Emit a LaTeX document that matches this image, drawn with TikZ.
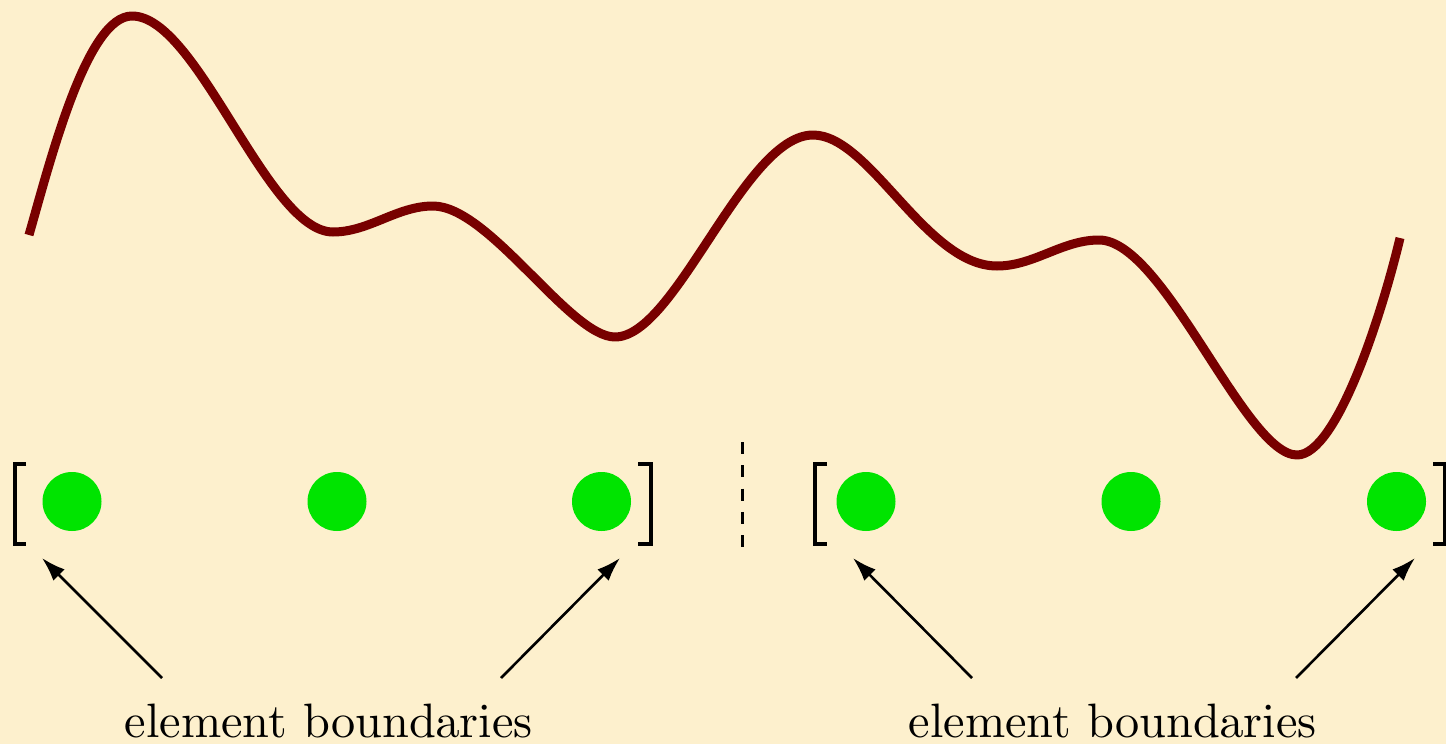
\documentclass[tikz,border=0pt]{standalone}
\usetikzlibrary{arrows.meta}
\definecolor{bgcream}{HTML}{FDF0CD}
\definecolor{curvered}{HTML}{780000}
\definecolor{dotgreen}{HTML}{00E400}
\font\lbfont=cmr10 at 48.3pt
\begin{document}
\begin{tikzpicture}[x=1pt,y=-1pt,
  dotnode/.style={circle,fill=dotgreen,draw=none,minimum size=59pt,inner sep=0pt},
  bracketline/.style={line width=4pt,line cap=butt,line join=miter},
  pointer/.style={line width=2.6pt,-{Latex[length=24pt,width=16pt]}},
  labeltext/.style={anchor=base,inner sep=0pt,font=\lbfont},
  sep/.style={line width=3pt,dash pattern=on 12pt off 11.3pt},
  wave/.style={draw=curvered,line width=9pt,line cap=butt,line join=round}]
\fill[bgcream] (0,0) rectangle (1446,744);
\useasboundingbox (0,0) rectangle (1446,744);
% curve
\draw[wave] (29,235)
  .. controls (51,158) and (87,16) .. (132,16)
  .. controls (198,16) and (267,232) .. (333,232)
  .. controls (369,232) and (397,206) .. (433,206)
  .. controls (489,206) and (570,337) .. (615,337)
  .. controls (676,337) and (744,135) .. (813,135)
  .. controls (870,135) and (926,266) .. (997,266)
  .. controls (1034,266) and (1062,240) .. (1099,240)
  .. controls (1164,240) and (1245,455) .. (1297,455)
  .. controls (1337,455) and (1382,313.6) .. (1400,238);
% dots
\node[dotnode] (d1) at (72,501.5) {};
\node[dotnode] (d2) at (337,501.5) {};
\node[dotnode] (d3) at (601.5,501.5) {};
\node[dotnode] (d4) at (866,501.5) {};
\node[dotnode] (d5) at (1131,501.5) {};
\node[dotnode] (d6) at (1396.5,501.5) {};
% brackets
\draw[bracketline] (26,463.5) -- (15,463.5) -- (15,544) -- (26,544);
\draw[bracketline] (638,463.5) -- (650.5,463.5) -- (650.5,544) -- (638,544);
\draw[bracketline] (827,463.5) -- (815,463.5) -- (815,544) -- (827,544);
\draw[bracketline] (1433,463.5) -- (1444.5,463.5) -- (1444.5,544) -- (1433,544);
% separator
\coordinate (s1) at (742.5,442);
\coordinate (s2) at (742.5,549);
\draw[sep] (s1) -- (s2);
% labels
\node[labeltext] (l1) at (329,737) {element boundaries};
\node[labeltext] (l2) at (1113,737) {element boundaries};
% arrows
\coordinate (t1) at (162,678);
\coordinate (t2) at (501,678);
\coordinate (t3) at (972,678);
\coordinate (t4) at (1296,678);
\coordinate (h1) at (42,558);
\coordinate (h2) at (620,558);
\coordinate (h3) at (853,558);
\coordinate (h4) at (1415,558);
\draw[pointer] (t1) -- (h1);
\draw[pointer] (t2) -- (h2);
\draw[pointer] (t3) -- (h3);
\draw[pointer] (t4) -- (h4);
\end{tikzpicture}
\end{document}
